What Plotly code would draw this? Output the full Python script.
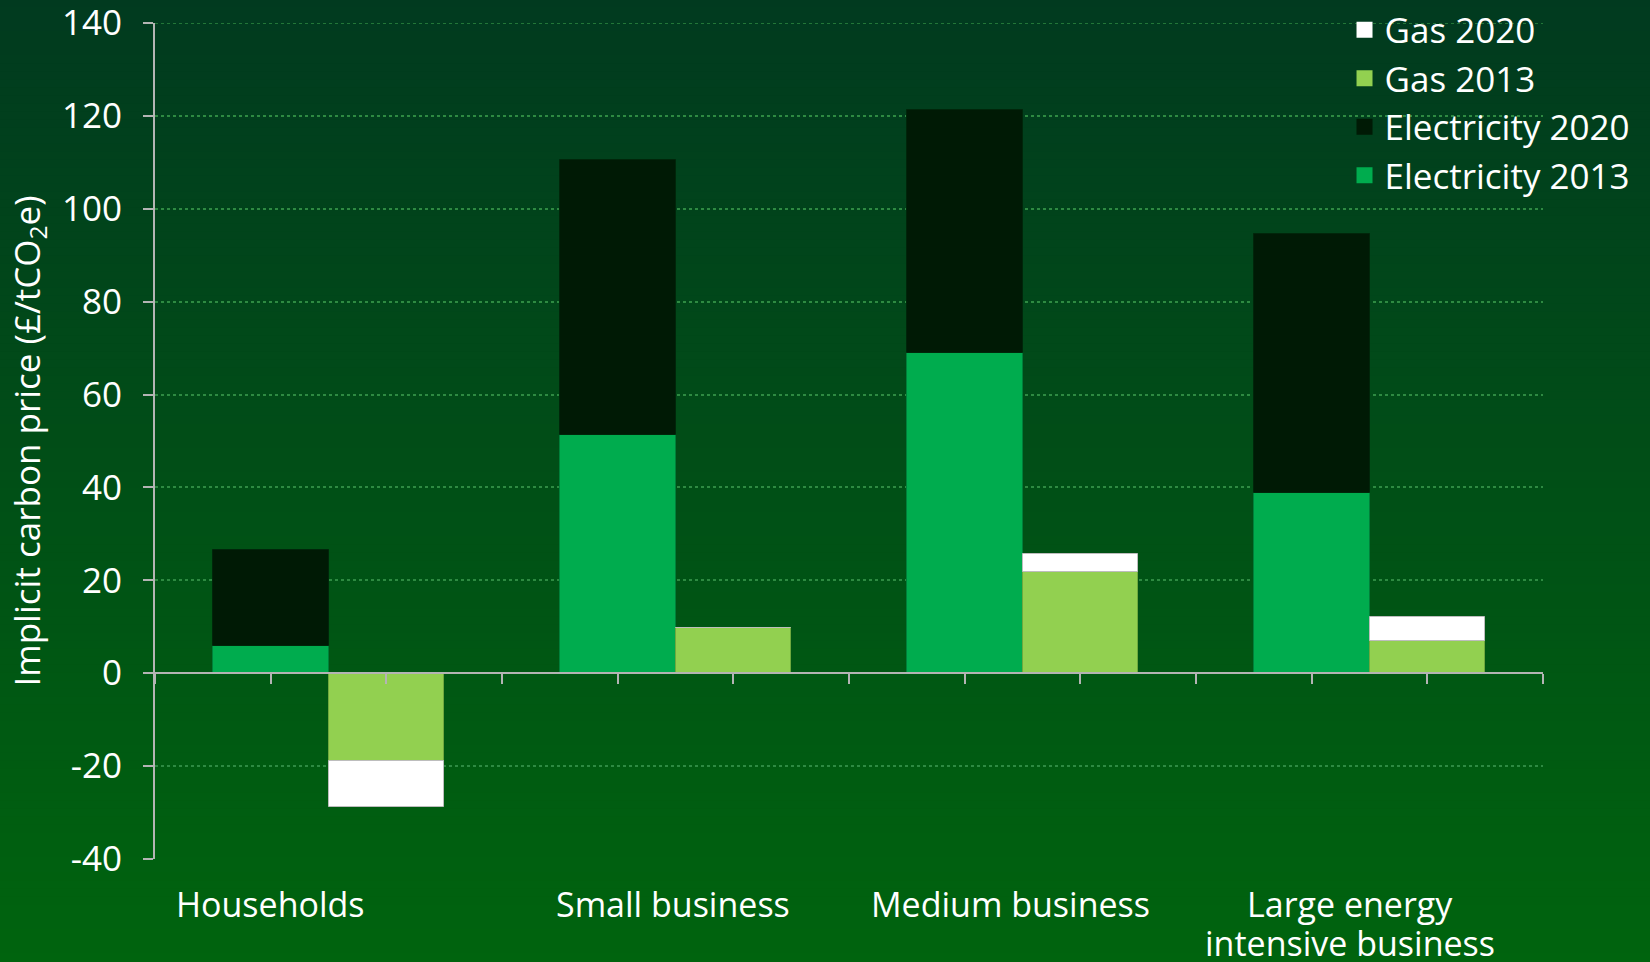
import plotly.graph_objects as go

# ---------------- data ----------------
categories = ["Households", "Small business", "Medium business", "Large energy<br>intensive business"]
elec_2013 = [5.8, 51.4, 69.0, 38.7]          # bottom segment of electricity bars
elec_2020 = [20.8, 59.0, 52.2, 55.8]         # increment stacked on top (2020)
gas_2013 = [-19.0, 9.8, 21.7, 6.9]           # bottom segment of gas bars
gas_2020 = [-9.8, 0.0, 4.0, 5.2]             # increment stacked (2020)
y_tick_vals = [-40, -20, 0, 20, 40, 60, 80, 100, 120, 140]
y_tick_text = ["-40", "-20", "0", "20", "40", "60", "80", "100", "120", "140"]

# ---------------- layout constants ----------------
W, H = 1650, 962
ML, MR, MT, MB = 155, 107, 23, 103
PW, PH = W - ML - MR, H - MT - MB
FONT = "Open Sans"
FS = 35
FS_CAT = 34
WHITE = "#FFFFFF"
AXIS_GREY = "#B4B4B4"
GRID = "#2E8A42"

C_E13 = "#00AC4E"
C_E20 = "#001A05"
C_G13 = "#92D050"
C_G20 = "#FFFFFF"

elec_x = [3 * i + 1 for i in range(len(categories))]
gas_x = [3 * i + 2 for i in range(len(categories))]
label_x = [1.0, 4.48, 7.4, 10.33]   # label anchor positions as in the original layout

fig = go.Figure()

def add_bar(x, y, color, line, name):
    fig.add_trace(go.Bar(
        x=x, y=y, width=1.0, name=name, showlegend=False,
        marker=dict(color=color, line=dict(color=line, width=1)),
        hoverinfo="skip",
    ))

add_bar(elec_x, elec_2013, C_E13, "#00803A", "Electricity 2013")
add_bar(elec_x, elec_2020, C_E20, "#00260A", "Electricity 2020")
add_bar(gas_x, gas_2013, C_G13, "#6FA83E", "Gas 2013")
add_bar(gas_x, gas_2020, C_G20, "#BDBDBD", "Gas 2020")

# legend entries (square swatches)
for nm, col in [("Gas 2020", C_G20), ("Gas 2013", C_G13),
                ("Electricity 2020", C_E20), ("Electricity 2013", C_E13)]:
    fig.add_trace(go.Scatter(
        x=[None], y=[None], mode="markers", name=nm, legendgroup=nm,
        marker=dict(symbol="square", size=22, color=col, line=dict(width=0)),
        showlegend=True,
    ))

# background gradient (figure-wide bands)
N = 120
top = (1, 58, 31)
bot = (0, 100, 14)
shapes = []
for i in range(N):
    t = (i + 0.5) / N
    c = tuple(round(top[k] + (bot[k] - top[k]) * t) for k in range(3))
    py0 = i * H / N - 1
    py1 = (i + 1) * H / N + 1
    shapes.append(dict(
        type="rect", xref="paper", yref="paper", layer="below",
        x0=-ML / PW - 0.01, x1=1 + MR / PW + 0.01,
        y0=(H - MB - py1) / PH, y1=(H - MB - py0) / PH,
        fillcolor="rgb(%d,%d,%d)" % c, line=dict(width=0),
    ))
# gridline at the top of the value range (plotly skips grid at the edge)
shapes.append(dict(
    type="line", xref="paper", yref="y", layer="below",
    x0=0, x1=1, y0=y_tick_vals[-1], y1=y_tick_vals[-1],
    line=dict(color=GRID, width=1.5, dash="dot"),
))

annotations = []
LINE_GAP = 39
for cx, lab in zip(label_x, categories):
    for j, part in enumerate(lab.split("<br>")):
        annotations.append(dict(
            x=cx, xref="x", y=0, yref="paper", yanchor="middle", xanchor="center",
            yshift=-45 - j * LINE_GAP, text=part, showarrow=False,
            font=dict(family=FONT, size=FS_CAT, color=WHITE),
        ))

fig.update_layout(
    width=W, height=H,
    margin=dict(l=ML, r=MR, t=MT, b=MB, pad=0, autoexpand=False),
    barmode="relative",
    bargap=0,
    paper_bgcolor="rgb(1,78,22)",
    plot_bgcolor="rgba(0,0,0,0)",
    font=dict(family=FONT, size=FS, color=WHITE),
    shapes=shapes,
    annotations=annotations,
    showlegend=True,
    legend=dict(
        x=0.857, xanchor="left", y=1.027, yanchor="top",
        bgcolor="rgba(0,0,0,0)", borderwidth=0,
        font=dict(family=FONT, size=FS, color=WHITE),
        tracegroupgap=0, itemwidth=30, itemsizing="trace",
    ),
    xaxis=dict(
        range=[0, 12], tickmode="linear", tick0=0, dtick=1,
        showticklabels=False, ticks="outside", ticklen=10, tickwidth=2,
        tickcolor=AXIS_GREY, showline=True, linecolor=AXIS_GREY, linewidth=2,
        showgrid=False, zeroline=False, anchor="free",
        position=(0 - y_tick_vals[0]) / (y_tick_vals[-1] - y_tick_vals[0]),
        fixedrange=True,
    ),
    yaxis=dict(
        range=[y_tick_vals[0], y_tick_vals[-1]],
        tickmode="array", tickvals=y_tick_vals, ticktext=y_tick_text,
        ticks="outside", ticklen=10, tickwidth=2, tickcolor=AXIS_GREY,
        showline=True, linecolor=AXIS_GREY, linewidth=2,
        showgrid=True, gridcolor=GRID, gridwidth=1.5, griddash="dot",
        zeroline=False, ticklabelstandoff=14, ticklabeloverflow="allow",
        tickfont=dict(family=FONT, size=FS, color=WHITE),
        title=dict(text="Implicit carbon price (£/tCO<sub>2</sub>e)", standoff=11,
                   font=dict(family=FONT, size=FS, color=WHITE)),
        fixedrange=True,
    ),
)

fig.write_html("out.html")
